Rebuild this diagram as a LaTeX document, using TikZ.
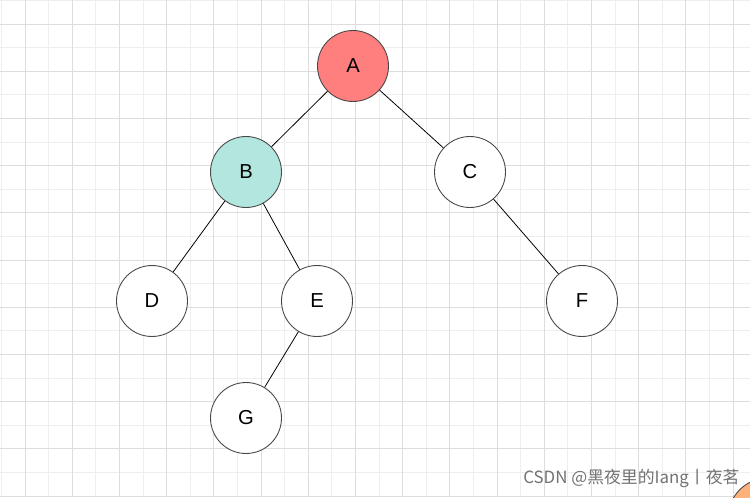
\documentclass[tikz,border=0pt]{standalone}
\usepackage{fontspec}
\setmainfont{Liberation Sans}
\newfontfamily\cjk{Noto Sans CJK SC}

\definecolor{gridlight}{HTML}{EEEEEE}
\definecolor{griddark}{HTML}{DDDDDD}
\definecolor{rootred}{HTML}{FF7F7F}
\definecolor{mint}{HTML}{B3E6DF}
\definecolor{rim}{HTML}{474747}
\definecolor{peach}{HTML}{FFB17A}

\tikzset{
  treenode/.style={circle, draw=rim, line width=0.5pt, fill=white,
    minimum size=1.42cm, inner sep=0pt, font=\fontsize{11.5}{13}\selectfont},
  treeedge/.style={draw=black, line width=0.45pt}
}

\begin{document}
\begin{tikzpicture}[x=0.02cm, y=-0.02cm]
  \useasboundingbox (0,0) rectangle (750,497);
  \fill[white] (0,0) rectangle (750,497);

  % Grid
  \foreach \k [evaluate=\k as \x using 1.4+47.2*\k] in {0,...,15}
    \draw[gridlight, line width=0.55pt] (\x,0) -- (\x,497);
  \foreach \k [evaluate=\k as \y using 0.4+47.2*\k] in {0,...,10}
    \draw[gridlight, line width=0.55pt] (0,\y) -- (750,\y);
  \foreach \k [evaluate=\k as \x using 25+47.2*\k] in {0,...,15}
    \draw[griddark, line width=0.55pt] (\x,0) -- (\x,497);
  \foreach \k [evaluate=\k as \y using 24+47.2*\k] in {0,...,10}
    \draw[griddark, line width=0.55pt] (0,\y) -- (750,\y);

  % Nodes
  \node[treenode, fill=rootred] (A) at (353,66) {A};
  \node[treenode, fill=mint] (B) at (246,172) {B};
  \node[treenode] (C) at (470,172) {C};
  \node[treenode] (D) at (152,301) {D};
  \node[treenode] (E) at (317,301) {E};
  \node[treenode] (F) at (582,301) {F};
  \node[treenode] (G) at (246,418) {G};

  % Edges
  \draw[treeedge] (A) -- (B);
  \draw[treeedge] (A) -- (C);
  \draw[treeedge] (B) -- (D);
  \draw[treeedge] (B) -- (E);
  \draw[treeedge] (C) -- (F);
  \draw[treeedge] (E) -- (G);

  % Watermark
  \node[anchor=base west, inner sep=0pt, text=black!55, font=\cjk\fontsize{9.6}{11}\selectfont] (mark) at (523,483) {CSDN @黑夜里的Iang丨夜茗};
  \begin{scope}
    \clip (0,0) rectangle (750,497);
    \draw[fill=peach, draw=rim, line width=0.5pt] (768,518) circle (40);
  \end{scope}
\end{tikzpicture}
\end{document}
